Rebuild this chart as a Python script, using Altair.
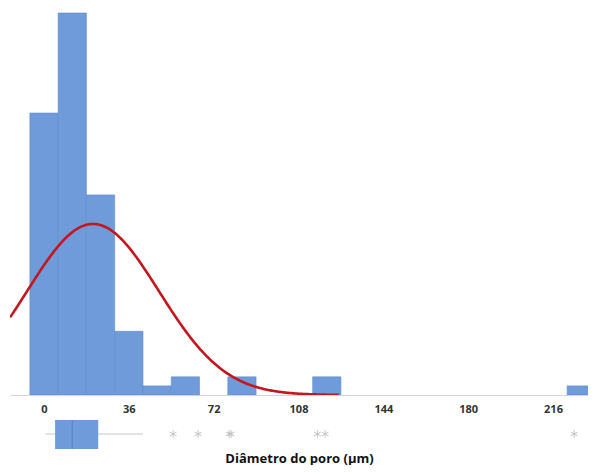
import altair as alt
import pandas as pd

# Histogram bins (width 12, centred on multiples of 12)
bin_start = [-6, 6, 18, 30, 42, 54, 66, 78, 90, 102, 114, 126, 138, 150, 162, 174, 186, 198, 210, 222]
counts    = [31, 42, 22, 7, 1, 2, 0, 2, 0, 0, 2, 0, 0, 0, 0, 0, 0, 0, 0, 1]
bin_width = 12

# Fitted normal curve parameters (estimated)
fit_mean = 20.8
fit_sd = 28.0
n_total = sum(counts)

# Box plot summary
q1, med, q3 = 4.7, 12.0, 23.0
whisker_lo, whisker_hi = 0.5, 42.0
outliers = [54.8, 65.4, 78.6, 79.4, 116.0, 119.3, 225.0]

tick_values = [0, 36, 72, 108, 144, 180, 216]
x_domain = [-14.43, 230.85]

blue = "#6F9BDA"
W = 578

hist_df = pd.DataFrame({"start": bin_start, "count": counts})
hist_df["end"] = hist_df["start"] + bin_width
hist_df = hist_df[hist_df["count"] > 0]

xscale = alt.Scale(domain=x_domain, nice=False, zero=False)

bars = alt.Chart(hist_df).mark_rect(color=blue, stroke="#608BCB", strokeWidth=0.6, clip=True).encode(
    x=alt.X("start:Q", scale=xscale,
            axis=alt.Axis(values=tick_values, title=None, grid=False, ticks=False, tickSize=0,
                          labelPadding=8, labelFontSize=11, labelFontWeight="bold",
                          labelColor="#333333", labelFont="Open Sans",
                          domainColor="#d4d4d4", labelFlush=False)),
    x2="end:Q",
    y=alt.Y("count:Q", scale=alt.Scale(domain=[0, 42.33], nice=False), axis=None),
    y2=alt.datum(0),
)

curve = alt.Chart(pd.DataFrame({"x": [0]})).transform_calculate(
    seq="sequence(-14.4, 125.2, 0.5)"
).transform_flatten(["seq"]).transform_calculate(
    xv="datum.seq",
    yv=f"{n_total}*{bin_width}/({fit_sd}*sqrt(2*PI))*exp(-0.5*pow((datum.seq-{fit_mean})/{fit_sd},2))"
).mark_line(color="#C4161C", strokeWidth=2.6, clip=True).encode(
    x=alt.X("xv:Q", scale=xscale),
    y=alt.Y("yv:Q"),
)

top = alt.layer(bars, curve).properties(width=W, height=385)

box_df = pd.DataFrame({"q1": [q1], "med": [med], "q3": [q3], "lo": [whisker_lo], "hi": [whisker_hi]})
out_df = pd.DataFrame({"v": outliers})

bottom_axis = alt.Axis(labels=False, ticks=False, domain=False, grid=False,
                       title="Diâmetro do poro (µm)", titleFontSize=13, titleFontWeight="bold",
                       titleColor="#111111", titleFont="Open Sans", titlePadding=2)

whisk = alt.Chart(box_df).mark_rule(color="#c8c8c8", strokeWidth=1).encode(
    x=alt.X("lo:Q", scale=xscale, axis=bottom_axis), x2="hi:Q", y=alt.value(16))
boxm = alt.Chart(box_df).mark_rect(color=blue).encode(
    x=alt.X("q1:Q", scale=xscale), x2="q3:Q", y=alt.value(2), y2=alt.value(31))
medm = alt.Chart(box_df).mark_rule(color="#5A84C2", strokeWidth=1).encode(
    x=alt.X("med:Q", scale=xscale), y=alt.value(2), y2=alt.value(31))
asterisk = "M0,-1L0,1M-0.87,-0.5L0.87,0.5M-0.87,0.5L0.87,-0.5"
outm = alt.Chart(out_df).mark_point(shape=asterisk, filled=False, color="#c4c4c4",
                                    strokeWidth=1, size=60, opacity=1).encode(
    x=alt.X("v:Q", scale=xscale), y=alt.value(16))

bottom = alt.layer(whisk, boxm, medm, outm).properties(width=W, height=32)

chart = alt.vconcat(top, bottom, spacing=4).properties(
    padding={"left": 2, "top": 2, "right": 0, "bottom": 0},
    background="white",
).configure_view(stroke=None)

chart.save("out.html", embed_options={"renderer": "svg", "actions": False})
